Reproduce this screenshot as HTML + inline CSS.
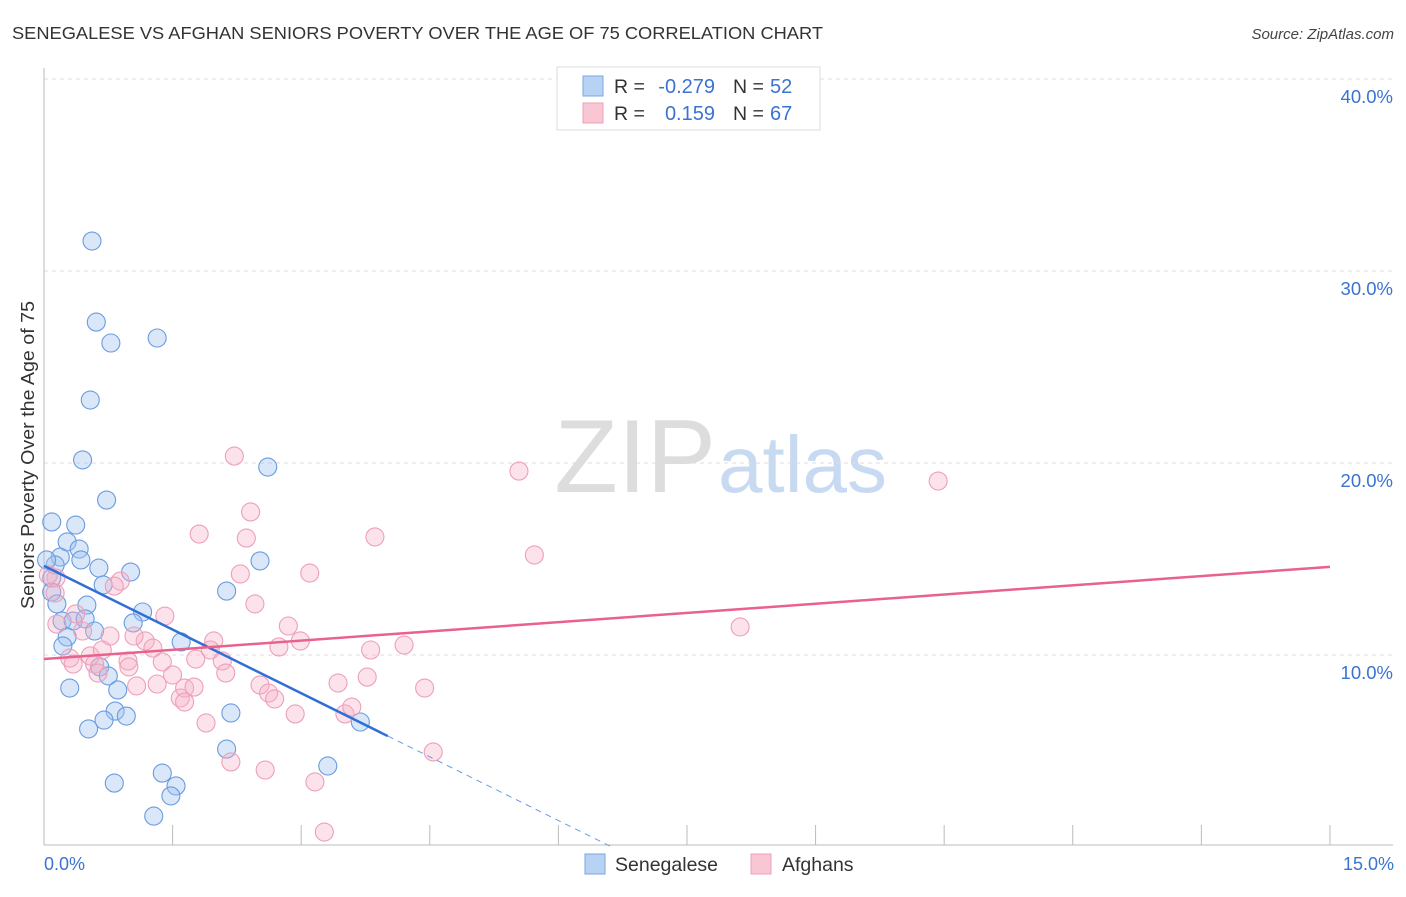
<!DOCTYPE html>
<html><head><meta charset="utf-8"><style>
body{margin:0;background:#fff;font-family:"Liberation Sans",sans-serif;}
svg text{font-family:"Liberation Sans",sans-serif;}
</style></head><body>
<svg id="chart" width="1406" height="892" viewBox="0 0 1406 892" xmlns="http://www.w3.org/2000/svg">
<text x="12" y="39" font-size="17.5" fill="#333" textLength="811" lengthAdjust="spacingAndGlyphs">SENEGALESE VS AFGHAN SENIORS POVERTY OVER THE AGE OF 75 CORRELATION CHART</text>
<text x="1394" y="39" font-size="15" fill="#444" text-anchor="end" font-style="italic">Source: ZipAtlas.com</text>
<text x="716" y="492" font-size="104" text-anchor="end" fill="#ddd" font-family="Liberation Serif">ZIP</text>
<text x="718" y="492" font-size="80" fill="#c8daf2">atlas</text>
<text transform="translate(34,455) rotate(-90)" font-size="18" fill="#333" text-anchor="middle" textLength="308" lengthAdjust="spacingAndGlyphs">Seniors Poverty Over the Age of 75</text>
<g id="grid"></g><g id="axes"></g><g id="pts"></g><g id="lines"></g>
<g>
<rect x="557" y="67" width="263" height="63" fill="#fff" stroke="#ddd"/>
<rect x="583" y="76" width="20" height="20" fill="#b8d2f4" stroke="#7aa6e0"/>
<rect x="583" y="103" width="20" height="20" fill="#f9c6d4" stroke="#eea0b8"/>
<text x="614" y="93" font-size="19.5" fill="#333">R = </text><text x="715" y="93" font-size="20" fill="#3a73d0" text-anchor="end">-0.279</text>
<text x="733" y="93" font-size="19.5" fill="#333">N = </text><text x="770" y="93" font-size="20" fill="#3a73d0">52</text>
<text x="614" y="120" font-size="19.5" fill="#333">R = </text><text x="715" y="120" font-size="20" fill="#3a73d0" text-anchor="end">0.159</text>
<text x="733" y="120" font-size="19.5" fill="#333">N = </text><text x="770" y="120" font-size="20" fill="#3a73d0">67</text>
</g>
<g>
<rect x="585" y="854" width="20" height="20" fill="#b8d2f4" stroke="#7aa6e0"/>
<text x="615" y="871" font-size="19.5" fill="#333">Senegalese</text>
<rect x="751" y="854" width="20" height="20" fill="#f9c6d4" stroke="#eea0b8"/>
<text x="782" y="871" font-size="19.5" fill="#333">Afghans</text>
</g>
<text x="44" y="870" font-size="18" fill="#3a73d0">0.0%</text>
<text x="1394" y="870" font-size="18" fill="#3a73d0" text-anchor="end">15.0%</text>
</svg>
<script>
const blueX=[0.56,0.61,0.78,1.32,0.54,0.45,0.73,2.61,0.09,0.37,0.19,0.27,0.41,0.43,0.13,0.64,0.69,1.01,0.09,0.09,0.15,0.50,1.15,2.13,2.52,0.21,0.34,0.48,1.04,0.59,0.27,0.22,1.60,0.65,0.75,0.86,0.30,0.83,0.96,0.70,0.52,2.18,3.69,2.13,1.38,1.54,1.48,0.82,3.31,1.28,0.03];
const blueY=[31.56,27.34,26.25,26.51,23.28,20.16,18.07,19.79,16.93,16.77,15.10,15.89,15.52,14.95,14.69,14.53,13.65,14.32,14.01,13.28,12.66,12.60,12.24,13.33,14.90,11.77,11.77,11.88,11.67,11.25,10.94,10.47,10.68,9.38,8.91,8.18,8.28,7.08,6.82,6.61,6.15,6.98,6.51,5.10,3.85,3.18,2.66,3.33,4.22,1.61,14.95];
const pinkX=[2.22,5.54,10.43,2.41,1.81,2.36,3.86,5.72,2.29,3.10,0.89,0.82,0.14,0.13,2.46,1.41,0.37,2.85,8.12,0.15,0.45,0.77,1.18,1.27,1.98,2.99,2.74,3.81,4.20,0.30,0.54,0.68,1.94,2.08,0.34,0.59,0.98,0.99,1.38,1.77,2.12,1.50,0.63,1.08,1.32,1.64,1.75,2.52,2.62,2.69,1.59,1.64,3.43,3.77,4.44,2.93,3.51,3.59,1.89,2.18,2.58,3.16,4.54,3.27,0.05,1.05];
const pinkY=[20.36,19.58,19.06,17.45,16.30,16.09,16.15,15.21,14.22,14.27,13.85,13.59,14.01,13.23,12.66,12.03,12.14,11.51,11.46,11.61,11.25,10.99,10.73,10.36,10.73,10.73,10.42,10.26,10.52,9.84,9.95,10.26,10.26,9.69,9.53,9.53,9.69,9.38,9.64,9.79,9.06,8.96,9.06,8.39,8.49,8.28,8.33,8.44,8.02,7.71,7.76,7.55,8.54,8.85,8.28,6.93,6.93,7.29,6.46,4.43,4.01,3.39,4.95,0.78,14.17,10.99];
const blueTrend=[14.64,-2.21];
const pinkTrend=[9.79,0.32];
const yTicks=[10,20,30,40];
const xTicks=[0,1.5,3,4.5,6,7.5,9,10.5,12,13.5,15];
const NS='http://www.w3.org/2000/svg';
const sx=v=>44+v*85.73, sy=v=>847-v*19.2;
function mk(t,a,p){const e=document.createElementNS(NS,t);for(const k in a)e.setAttribute(k,a[k]);document.getElementById(p).appendChild(e);return e;}
yTicks.forEach(t=>{
 const l=mk('line',{x1:44,x2:1393,y1:sy(t),y2:sy(t),stroke:'#ddd','stroke-dasharray':'4,4'},'grid');
 
 
 const tx=mk('text',{x:1393,y:sy(t)+24,'font-size':18.5,fill:'#3a73d0','text-anchor':'end'},'grid');
 tx.textContent=t.toFixed(1)+'%';
 
 
});
const ya=mk('line',{x1:44,x2:44,y1:68,y2:845,stroke:'#bbb'},'axes');


const xa=mk('line',{x1:44,x2:1393,y1:845,y2:845,stroke:'#bbb'},'axes');


xTicks.forEach(t=>{
 const l=mk('line',{x1:sx(t),x2:sx(t),y1:825,y2:845,stroke:'#bbb'},'axes');
 
 
});
blueX.forEach((x,i)=>{
 const c=mk('circle',{cx:sx(x),cy:sy(blueY[i]),r:9,fill:'rgba(160,196,240,0.4)',stroke:'#6a9be0','stroke-width':1.1},'pts');
 
 
});
pinkX.forEach((x,i)=>{
 const c=mk('circle',{cx:sx(x),cy:sy(pinkY[i]),r:9,fill:'rgba(245,175,198,0.35)',stroke:'#ee9fb8','stroke-width':1.1},'pts');
 
 
});
const bf=x=>blueTrend[0]+blueTrend[1]*x, pf=x=>pinkTrend[0]+pinkTrend[1]*x;
const b1=mk('line',{x1:sx(0),y1:sy(bf(0)),x2:sx(4.01),y2:sy(bf(4.01)),stroke:'#2f6fd6','stroke-width':2.5},'lines');


const xe=-blueTrend[0]/blueTrend[1];
const b2=mk('line',{x1:sx(4.01),y1:sy(bf(4.01)),x2:sx(xe),y2:sy(0),stroke:'#6a9be0','stroke-width':1,'stroke-dasharray':'6,5'},'lines');


const p1=mk('line',{x1:sx(0),y1:sy(pf(0)),x2:sx(15),y2:sy(pf(15)),stroke:'#e8628c','stroke-width':2.5},'lines');


</script>
</body></html>
